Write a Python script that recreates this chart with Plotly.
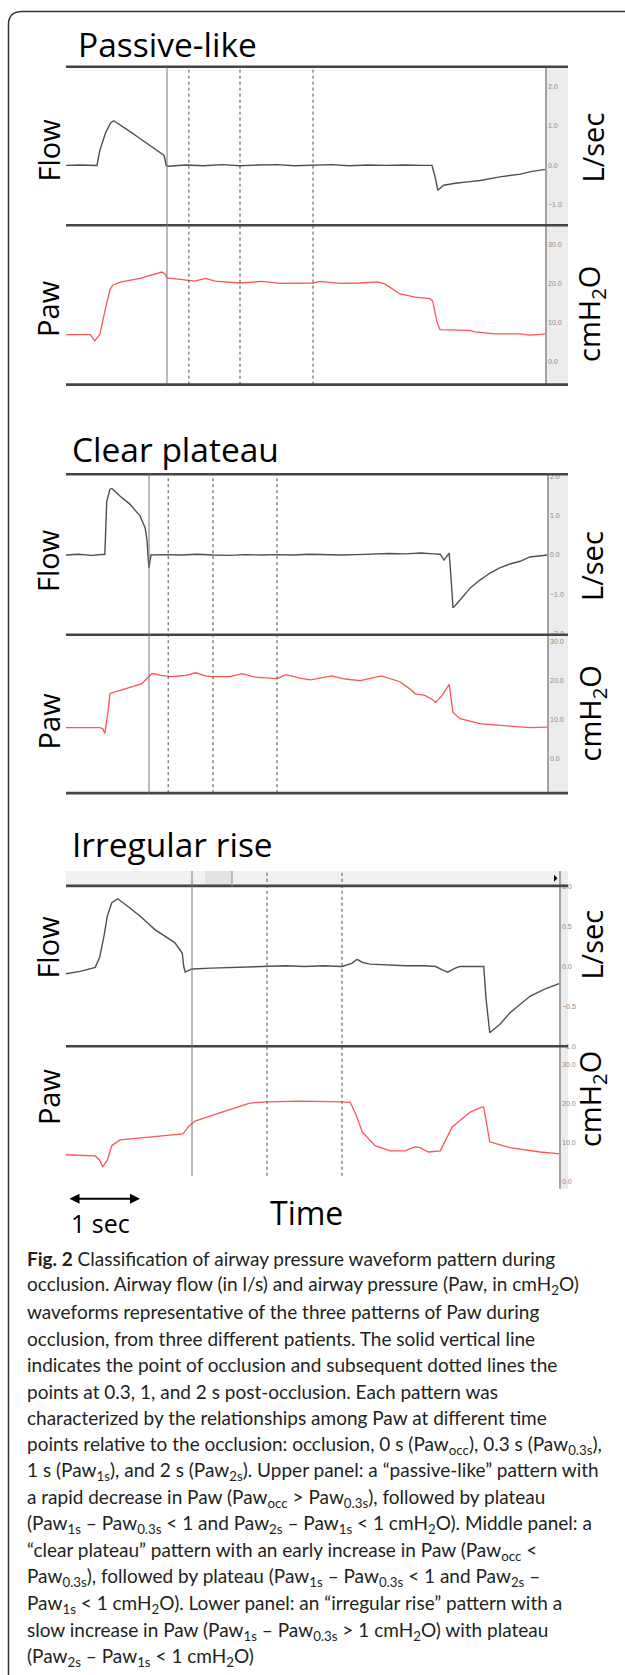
import plotly.graph_objects as go

# ---------------- data (time in s relative to occlusion) ----------------
# Panel 1: Passive-like
p1_flow_t = [-1.38, -1.2, -0.96, -0.92, -0.84, -0.77, -0.73, -0.62, -0.51, -0.37, -0.23, -0.1, -0.04,
             -0.01, 0.02, 0.25, 0.5, 0.75, 1.0, 1.25, 1.5, 1.75, 2.0, 2.25, 2.5, 2.75, 3.0, 3.25, 3.5,
             3.63, 3.68, 3.71, 3.79, 3.95, 4.15, 4.29, 4.56, 4.84, 5.0, 5.19]
p1_flow_v = [0.0, 0.01, 0.0, 0.38, 0.83, 1.08, 1.13, 1.0, 0.86, 0.68, 0.5, 0.34, 0.25,
             0.0, -0.02, 0.01, -0.01, 0.02, -0.01, 0.01, 0.02, -0.01, 0.0, 0.02, -0.01, 0.01, 0.0, 0.01, 0.0,
             0.0, -0.35, -0.63, -0.5, -0.45, -0.41, -0.38, -0.29, -0.22, -0.15, -0.1]
p1_paw_t = [-1.38, -1.05, -0.99, -0.92, -0.85, -0.78, -0.74, -0.64, -0.37, -0.16, -0.07, -0.03, 0.0, 0.18,
            0.38, 0.53, 0.66, 1.0, 1.3, 1.55, 2.0, 2.1, 2.37, 2.64, 2.89, 2.99, 3.12, 3.19, 3.4, 3.6, 3.64,
            3.7, 3.74, 4.15, 4.22, 4.49, 4.84, 4.97, 5.19]
p1_paw_v = [6.9, 6.9, 5.3, 7.0, 13.0, 18.5, 19.6, 20.3, 21.3, 22.3, 22.9, 22.5, 21.4, 21.0,
            20.6, 21.3, 20.6, 20.1, 20.5, 20.0, 20.1, 20.5, 20.0, 20.1, 20.4, 19.8, 18.2, 17.3, 16.5, 16.1, 15.5,
            10.0, 8.2, 8.0, 7.6, 7.1, 7.1, 6.8, 7.1]

# Panel 2: Clear plateau
p2_flow_t = [-1.30, -1.1, -0.9, -0.72, -0.69, -0.66, -0.61, -0.58, -0.45, -0.30, -0.14, -0.06, -0.03,
             -0.015, 0.0, 0.03, 0.25, 0.5, 0.75, 1.0, 1.25, 1.5, 1.75, 2.0, 2.25, 2.5, 2.75, 3.0, 3.25,
             3.5, 3.75, 4.0, 4.25, 4.45, 4.55, 4.61, 4.69, 4.72, 4.75, 4.86, 5.02, 5.17, 5.33, 5.48,
             5.64, 5.8, 5.95, 6.23]
p2_flow_v = [0.0, 0.02, -0.01, 0.01, 0.02, 1.37, 1.68, 1.7, 1.5, 1.3, 1.0, 0.69, 0.36,
             -0.05, -0.33, 0.0, 0.01, 0.0, 0.02, 0.0, -0.01, 0.01, 0.0, 0.01, 0.0, 0.02, 0.01, 0.0, 0.01,
             0.03, 0.04, 0.03, 0.05, 0.03, 0.02, -0.13, 0.05, -0.6, -1.35, -1.15, -0.84, -0.64, -0.46, -0.33,
             -0.23, -0.16, -0.05, 0.0]
p2_paw_t = [-1.30, -0.77, -0.72, -0.69, -0.64, -0.61, -0.45, -0.30, -0.11, -0.02, 0.05, 0.17, 0.34, 0.56,
            0.73, 0.88, 0.98, 1.27, 1.45, 1.66, 2.0, 2.14, 2.36, 2.52, 2.86, 3.06, 3.3, 3.63, 3.92, 4.08,
            4.16, 4.31, 4.42, 4.48, 4.58, 4.69, 4.75, 4.86, 5.17, 5.64, 5.95, 6.23]
p2_paw_v = [7.9, 7.9, 7.6, 6.4, 12.0, 16.7, 17.5, 18.2, 19.2, 20.8, 21.8, 21.4, 21.0, 21.3,
            22.0, 21.2, 21.0, 21.0, 21.8, 20.9, 20.5, 21.5, 20.6, 20.2, 21.2, 20.4, 20.0, 21.2, 19.7, 17.8,
            16.6, 16.2, 15.2, 14.4, 16.2, 19.0, 11.8, 10.2, 8.9, 8.3, 7.9, 8.0]

# Panel 3: Irregular rise
p3_flow_t = [-1.68, -1.49, -1.29, -1.23, -1.17, -1.13, -1.07, -0.99, -0.85, -0.69, -0.49, -0.23, -0.13,
             -0.11, -0.09, 0.0, 0.25, 0.51, 0.75, 0.99, 1.25, 1.5, 1.75, 2.0, 2.13, 2.2, 2.28, 2.37, 2.6,
             2.85, 3.1, 3.25, 3.33, 3.41, 3.51, 3.57, 3.75, 3.89, 3.92, 3.97, 4.11, 4.24, 4.51, 4.71, 4.91]
p3_flow_v = [-0.09, -0.06, -0.01, 0.12, 0.4, 0.63, 0.8, 0.85, 0.75, 0.63, 0.46, 0.3, 0.17,
             0.0, -0.07, -0.03, -0.02, -0.01, 0.0, 0.0, 0.01, 0.0, 0.01, 0.0, 0.04, 0.09, 0.05, 0.03, 0.02,
             0.01, 0.01, 0.0, -0.04, -0.07, -0.02, 0.0, 0.0, 0.0, -0.4, -0.83, -0.72, -0.58, -0.37, -0.28, -0.21]
p3_paw_t = [-1.68, -1.29, -1.23, -1.19, -1.13, -1.07, -0.96, -0.69, -0.43, -0.12, -0.05, 0.04, 0.37, 0.77,
            0.99, 1.44, 2.0, 2.11, 2.19, 2.27, 2.44, 2.64, 2.84, 2.97, 3.04, 3.15, 3.31, 3.39, 3.47, 3.71,
            3.87, 3.89, 3.97, 4.11, 4.24, 4.64, 4.91]
p3_paw_v = [6.9, 6.6, 5.5, 3.8, 5.5, 9.2, 10.7, 11.2, 11.7, 12.2, 14.0, 15.5, 17.6, 20.1,
            20.4, 20.6, 20.4, 20.3, 17.0, 12.7, 9.2, 7.9, 7.9, 8.9, 8.7, 7.6, 7.9, 11.0, 14.0, 17.8,
            19.1, 19.0, 10.2, 9.4, 8.7, 7.6, 7.1]

marks = [[0, 0.3, 1, 2], [0, 0.3, 1, 2], [0, 1, 2]]
flow_ticks = [[-1, 0, 1, 2], [-2, -1, 0, 1, 2], [-1, -0.5, 0, 0.5, 1]]
paw_ticks = [[0, 10, 20, 30], [0, 10, 20, 30], [0, 10, 20, 30]]
titles = ["Passive-like", "Clear plateau", "Irregular rise"]

# ---------------- layout geometry (pixels) ----------------
W, H = 625, 1675
def px(x): return x / W
def py(y): return 1 - y / H

G = [
    dict(xl=66, xr=546, xe=568, occ=167, pps=73, top=64, mid=223, bot=383, fz=163, fu=39.7,
         pz=360, pu=3.93, ttl=(76, 41), fl=147, pl=306, ls=145, cm=312, mtop=64, mbot=383,
         stop=64, sbot=383, lines=[64, 223, 383]),
    dict(xl=66, xr=548, xe=568, occ=149, pps=64, top=473, mid=634, bot=793, fz=554, fu=39.3,
         pz=758, pu=3.9, ttl=(70, 448), fl=559, pl=720, ls=565, cm=713, mtop=473, mbot=793,
         stop=473, sbot=793, lines=[473, 634, 793]),
    dict(xl=66, xr=560, xe=568, occ=192, pps=75, top=886, mid=1047, bot=1190, fz=967, fu=80,
         pz=1183, pu=3.93, ttl=(70, 844), fl=947, pl=1097, ls=945, cm=1100, mtop=871, mbot=1177,
         stop=871, sbot=1190, lines=[886, 1047]),
]
data = [(p1_flow_t, p1_flow_v, p1_paw_t, p1_paw_v),
        (p2_flow_t, p2_flow_v, p2_paw_t, p2_paw_v),
        (p3_flow_t, p3_flow_v, p3_paw_t, p3_paw_v)]

FLOW_C = "#505050"
PAW_C = "#ff5454"
TFONT = "Open Sans"

fig = go.Figure()
shapes = []
annotations = []
layout = {}

for i, (g, d) in enumerate(zip(G, data)):
    xn = "" if i == 0 else str(i + 1)
    yf = str(2 * i + 1) if i > 0 else ""
    yp = str(2 * i + 2)
    fig.add_trace(go.Scatter(x=d[0], y=d[1], mode="lines", line=dict(color=FLOW_C, width=1.4),
                             xaxis="x" + xn, yaxis="y" + yf, showlegend=False, hoverinfo="skip"))
    fig.add_trace(go.Scatter(x=d[2], y=d[3], mode="lines", line=dict(color=PAW_C, width=1.3),
                             xaxis="x" + xn, yaxis="y" + yp, showlegend=False, hoverinfo="skip"))
    layout["xaxis" + xn] = dict(domain=[px(g["xl"]), px(g["xr"])],
                                range=[(g["xl"] - g["occ"]) / g["pps"], (g["xr"] - g["occ"]) / g["pps"]],
                                visible=False, anchor="y" + yp)
    common = dict(anchor="x" + xn, side="right", showgrid=False, zeroline=False, showline=False,
                  ticks="", tickformat=".1f", tickfont=dict(size=7, color="#8a8a8a", family="Liberation Sans"),
                  ticklabelstandoff=1)
    layout["yaxis" + yf] = dict(domain=[py(g["mid"]), py(g["top"])],
                                range=[(g["fz"] - g["mid"]) / g["fu"], (g["fz"] - g["top"]) / g["fu"]],
                                tickvals=flow_ticks[i], **common)
    layout["yaxis" + yp] = dict(domain=[py(g["bot"]), py(g["mid"])],
                                range=[(g["pz"] - g["bot"]) / g["pu"], (g["pz"] - g["mid"]) / g["pu"]],
                                tickvals=paw_ticks[i], **common)

    # grey scale strip on the right
    shapes.append(dict(type="rect", xref="paper", yref="paper", x0=px(g["xr"]), x1=px(g["xe"]),
                       y0=py(g["sbot"]), y1=py(g["stop"]), fillcolor="#ececec", line=dict(width=0),
                       layer="below"))
    shapes.append(dict(type="line", xref="paper", yref="paper", x0=px(g["xr"]), x1=px(g["xr"]),
                       y0=py(g["sbot"]), y1=py(g["stop"]), line=dict(color="#a3a3a3", width=2)))
    # thick horizontal frame lines
    for yl in g["lines"]:
        shapes.append(dict(type="line", xref="paper", yref="paper", x0=px(g["xl"]), x1=px(g["xe"]),
                           y0=py(yl), y1=py(yl), line=dict(color="#454545", width=2.6)))
    # occlusion markers
    for k, m in enumerate(marks[i]):
        shapes.append(dict(type="line", xref="x" + xn, yref="paper", x0=m, x1=m,
                           y0=py(g["mbot"]), y1=py(g["mtop"]),
                           line=dict(color="#777777" if k == 0 else "#4a4a4a", width=1,
                                     dash="solid" if k == 0 else "dot")))
    # texts
    annotations.append(dict(text=titles[i], xref="paper", yref="paper", x=px(g["ttl"][0]), y=py(g["ttl"][1]),
                            xanchor="left", yanchor="middle", showarrow=False,
                            font=dict(family=TFONT, size=33.5, color="#000")))
    for txt, xx, yy in [("Flow", 48, g["fl"]), ("Paw", 48, g["pl"]),
                        ("L/sec", 592, g["ls"]), ("cmH<sub>2</sub>O", 591, g["cm"])]:
        annotations.append(dict(text=txt, xref="paper", yref="paper", x=px(xx), y=py(yy), textangle=-90,
                                xanchor="center", yanchor="middle", showarrow=False,
                                font=dict(family=TFONT, size=29, color="#000")))

# panel 3 scroll bar
shapes.append(dict(type="rect", xref="paper", yref="paper", x0=px(66), x1=px(560), y0=py(886), y1=py(871),
                   fillcolor="#f1f1f1", line=dict(width=0), layer="below"))
shapes.append(dict(type="rect", xref="paper", yref="paper", x0=px(205), x1=px(232), y0=py(886), y1=py(871),
                   fillcolor="#e3e3e3", line=dict(width=0), layer="below"))
shapes.append(dict(type="line", xref="paper", yref="paper", x0=px(232), x1=px(232), y0=py(886), y1=py(871),
                   line=dict(color="#a8a8a8", width=1.5)))
shapes.append(dict(type="path", xref="paper", yref="paper",
                   path=f"M {px(554)},{py(875)} L {px(557.5)},{py(878.5)} L {px(554)},{py(882)} Z",
                   fillcolor="#000", line=dict(width=0)))

# outer frame
shapes.append(dict(type="path", xref="paper", yref="paper",
                   path=f"M {px(8.5)},{py(1680)} L {px(8.5)},{py(22)} Q {px(8.5)},{py(8.5)} {px(22)},{py(8.5)} L {px(630)},{py(8.5)}",
                   line=dict(color="#333333", width=1.5)))

# 1 sec scale bar and Time label
annotations.append(dict(x=px(140), y=py(1200), ax=-72, ay=0, xref="paper", yref="paper", axref="pixel",
                        ayref="pixel", text="", showarrow=True, arrowhead=2, arrowside="end+start",
                        arrowsize=1, arrowwidth=2, arrowcolor="#000"))
annotations.append(dict(text="1 sec", xref="paper", yref="paper", x=px(69), y=py(1224), xanchor="left",
                        yanchor="middle", showarrow=False, font=dict(family=TFONT, size=25, color="#000")))
annotations.append(dict(text="Time", xref="paper", yref="paper", x=px(268), y=py(1214), xanchor="left",
                        yanchor="middle", showarrow=False, font=dict(family=TFONT, size=32, color="#000")))

caption = [
    "<b>Fig. 2</b> Classification of airway pressure waveform pattern during",
    "occlusion. Airway flow (in l/s) and airway pressure (Paw, in cmH<sub>2</sub>O)",
    "waveforms representative of the three patterns of Paw during",
    "occlusion, from three different patients. The solid vertical line",
    "indicates the point of occlusion and subsequent dotted lines the",
    "points at 0.3, 1, and 2 s post-occlusion. Each pattern was",
    "characterized by the relationships among Paw at different time",
    "points relative to the occlusion: occlusion, 0 s (Paw<sub>occ</sub>), 0.3 s (Paw<sub>0.3s</sub>),",
    "1 s (Paw<sub>1s</sub>), and 2 s (Paw<sub>2s</sub>). Upper panel: a “passive-like” pattern with",
    "a rapid decrease in Paw (Paw<sub>occ</sub> &gt; Paw<sub>0.3s</sub>), followed by plateau",
    "(Paw<sub>1s</sub> – Paw<sub>0.3s</sub> &lt; 1 and Paw<sub>2s</sub> – Paw<sub>1s</sub> &lt; 1 cmH<sub>2</sub>O). Middle panel: a",
    "“clear plateau” pattern with an early increase in Paw (Paw<sub>occ</sub> &lt;",
    "Paw<sub>0.3s</sub>), followed by plateau (Paw<sub>1s</sub> – Paw<sub>0.3s</sub> &lt; 1 and Paw<sub>2s</sub> –",
    "Paw<sub>1s</sub> &lt; 1 cmH<sub>2</sub>O). Lower panel: an “irregular rise” pattern with a",
    "slow increase in Paw (Paw<sub>1s</sub> – Paw<sub>0.3s</sub> &gt; 1 cmH<sub>2</sub>O) with plateau",
    "(Paw<sub>2s</sub> – Paw<sub>1s</sub> &lt; 1 cmH<sub>2</sub>O)",
]
for k, line in enumerate(caption):
    annotations.append(dict(text=line, xref="paper", yref="paper", x=px(25), y=py(1260 + k * 26.67),
                            xanchor="left", yanchor="middle", showarrow=False,
                            font=dict(family="Lato", size=19, color="#231f20")))

fig.update_layout(width=W, height=H, margin=dict(l=0, r=0, t=0, b=0), paper_bgcolor="white",
                  plot_bgcolor="rgba(0,0,0,0)", shapes=shapes, annotations=annotations, **layout)
fig.write_html("out.html")
